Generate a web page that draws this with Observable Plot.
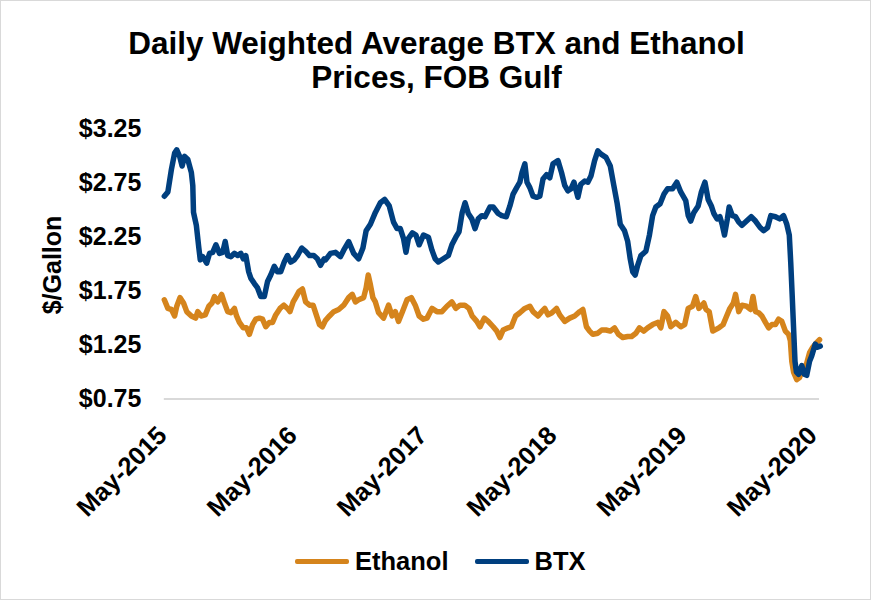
<!DOCTYPE html>
<html>
<head>
<meta charset="utf-8">
<script src="https://cdn.jsdelivr.net/npm/d3@7"></script>
<script src="https://cdn.jsdelivr.net/npm/@observablehq/plot@0.6"></script>
<style>
  html, body { margin: 0; padding: 0; background: #fff; }
  #wrap { position: relative; width: 871px; height: 600px; box-sizing: border-box; border: 1px solid #d9d9d9; overflow: hidden; font-family: "Liberation Sans", Arial, sans-serif; color: #000; }
  #title { position: absolute; left: 0; top: 25px; width: 871px; text-align: center; font-size: 31.5px; font-weight: bold; line-height: 34px; }
  #ylabel { position: absolute; left: 51px; top: 264px; transform: translate(-50%, -50%) rotate(-90deg); font-size: 25px; font-weight: bold; line-height: 25px; white-space: nowrap; }
  #legend { position: absolute; left: 294px; top: 548px; display: flex; align-items: center; font-size: 25.5px; font-weight: bold; line-height: 25px; }
  .sw { width: 54px; height: 5px; border-radius: 2px; margin-right: 6px; }
  .item { display: flex; align-items: center; margin-right: 26px; }
  #chart { position: absolute; left: -1px; top: -1px; }
</style>
</head>
<body>
<div id="wrap">
  <div id="chart"></div>
  <div id="title">Daily Weighted Average BTX and Ethanol<br>Prices, FOB Gulf</div>
  <div id="ylabel">$/Gallon</div>
  <div id="legend"></div>
</div>
<script>
const seriesNames = ["Ethanol", "BTX"];
const seriesColors = ["#d5841c", "#003f7f"];

const yTicks = [0.75, 1.25, 1.75, 2.25, 2.75, 3.25];
const xTickDates = ["2015-05-01", "2016-05-01", "2017-05-01", "2018-05-01", "2019-05-01", "2020-05-01"];
const xTickLabels = ["May-2015", "May-2016", "May-2017", "May-2018", "May-2019", "May-2020"];

const btxDates = [
"2015-05-01","2015-05-11","2015-05-21","2015-05-30","2015-06-05","2015-06-13","2015-06-20","2015-06-27","2015-07-06","2015-07-16","2015-07-20","2015-07-22","2015-07-30","2015-08-06","2015-08-10","2015-08-17","2015-08-28","2015-09-05","2015-09-14","2015-09-23","2015-10-03","2015-10-12","2015-10-19","2015-10-26","2015-11-04","2015-11-14","2015-11-23","2015-12-02","2015-12-09","2015-12-16","2015-12-24","2015-12-30",
"2016-01-09","2016-01-18","2016-01-27","2016-02-06","2016-02-15","2016-02-24","2016-03-05","2016-03-14","2016-03-23","2016-04-02","2016-04-11","2016-04-20","2016-04-30","2016-05-09","2016-05-21","2016-06-01","2016-06-12","2016-06-24","2016-07-04","2016-07-13","2016-07-23","2016-07-27","2016-08-10","2016-08-24","2016-09-07","2016-09-16","2016-09-30","2016-10-14","2016-10-28","2016-11-09","2016-11-18","2016-11-30","2016-12-14","2016-12-28",
"2017-01-09","2017-01-22","2017-02-03","2017-02-13","2017-02-22","2017-03-03","2017-03-10","2017-03-17","2017-03-28","2017-04-07","2017-04-16","2017-04-28","2017-05-12","2017-05-22","2017-05-31","2017-06-09","2017-06-23","2017-07-07","2017-07-17","2017-07-28","2017-08-06","2017-08-15","2017-08-23","2017-09-01","2017-09-11","2017-09-20","2017-09-29","2017-10-09","2017-10-18","2017-11-01","2017-11-10","2017-11-24","2017-12-04","2017-12-17","2017-12-27",
"2018-01-05","2018-01-15","2018-01-24","2018-01-30","2018-02-07","2018-02-13","2018-02-21","2018-03-02","2018-03-12","2018-03-21","2018-03-30","2018-04-09","2018-04-18","2018-04-27","2018-05-11","2018-05-21","2018-05-30","2018-06-08","2018-06-17","2018-06-25","2018-07-02","2018-07-06","2018-07-14","2018-07-25","2018-08-03","2018-08-12","2018-08-22","2018-08-31","2018-09-09","2018-09-23","2018-10-05","2018-10-15","2018-10-24","2018-11-02","2018-11-14","2018-11-23","2018-11-30","2018-12-07","2018-12-14","2018-12-21","2018-12-30",
"2019-01-13","2019-01-23","2019-02-01","2019-02-10","2019-02-22","2019-03-05","2019-03-15","2019-03-29","2019-04-10","2019-04-21","2019-05-05","2019-05-12","2019-05-19","2019-05-28","2019-06-09","2019-06-18","2019-06-28","2019-07-07","2019-07-16","2019-07-23","2019-08-01","2019-08-09","2019-08-16","2019-08-22","2019-08-30","2019-09-04","2019-09-13","2019-09-22","2019-10-01","2019-10-10","2019-10-23","2019-11-05","2019-11-17","2019-11-30","2019-12-10","2019-12-21","2019-12-30",
"2020-01-12","2020-01-24","2020-02-04","2020-02-13","2020-02-20","2020-02-24","2020-02-28","2020-03-03","2020-03-07","2020-03-11","2020-03-17","2020-03-26","2020-04-02","2020-04-09","2020-04-17","2020-04-23","2020-05-03","2020-05-09","2020-05-17"];

const btxValues = [
2.63,2.67,2.88,3.03,3.06,3.00,2.91,3.00,2.97,2.85,2.73,2.48,2.36,2.15,2.04,2.07,2.01,2.10,2.11,2.18,2.10,2.11,2.21,2.08,2.07,2.10,2.08,2.10,2.05,2.08,1.93,1.87,
1.82,1.78,1.70,1.70,1.84,1.90,1.98,1.93,1.93,2.02,2.08,2.02,2.04,2.08,2.15,2.12,2.08,2.08,2.05,1.99,2.05,2.04,2.10,2.11,2.07,2.13,2.21,2.10,2.05,2.15,2.31,2.37,2.48,2.57,
2.60,2.54,2.39,2.33,2.33,2.24,2.11,2.24,2.29,2.27,2.18,2.27,2.25,2.13,2.05,2.02,2.05,2.08,2.18,2.25,2.30,2.48,2.57,2.47,2.42,2.33,2.42,2.45,2.44,2.53,2.53,2.47,2.45,2.44,2.54,
2.65,2.71,2.76,2.85,2.93,2.76,2.71,2.63,2.62,2.63,2.79,2.83,2.80,2.93,2.96,2.85,2.73,2.68,2.70,2.76,2.67,2.62,2.74,2.77,2.76,2.82,2.96,3.05,3.02,2.99,2.91,2.73,2.57,2.37,2.31,2.21,2.05,1.93,1.90,1.99,2.08,
2.12,2.27,2.45,2.53,2.56,2.65,2.70,2.70,2.76,2.67,2.59,2.45,2.40,2.48,2.54,2.67,2.76,2.60,2.54,2.47,2.42,2.44,2.36,2.27,2.42,2.53,2.45,2.44,2.39,2.36,2.40,2.44,2.40,2.34,2.31,2.34,2.45,
2.44,2.42,2.45,2.37,2.27,2.02,1.72,1.41,1.10,1.00,0.98,1.06,0.98,0.97,1.10,1.15,1.26,1.23,1.24];

const ethDates = [
"2015-05-01","2015-05-11","2015-05-21","2015-05-30","2015-06-05","2015-06-14","2015-06-24","2015-07-03","2015-07-16","2015-07-28","2015-08-03","2015-08-12","2015-08-24","2015-09-03","2015-09-12","2015-09-19","2015-09-28","2015-10-09","2015-10-17","2015-10-26","2015-11-04","2015-11-14","2015-11-20","2015-11-28","2015-12-09","2015-12-18","2015-12-26",
"2016-01-04","2016-01-13","2016-01-23","2016-02-01","2016-02-10","2016-02-20","2016-02-29","2016-03-09","2016-03-21","2016-04-01","2016-04-11","2016-04-18","2016-04-27","2016-05-04","2016-05-14","2016-05-23","2016-06-01","2016-06-12","2016-06-22","2016-07-01","2016-07-10","2016-07-18","2016-07-27","2016-08-07","2016-08-19","2016-09-02","2016-09-16","2016-09-30","2016-10-10","2016-10-19","2016-10-28","2016-11-11","2016-11-18","2016-11-24","2016-11-30","2016-12-07","2016-12-14","2016-12-23",
"2017-01-06","2017-01-20","2017-01-30","2017-02-08","2017-02-17","2017-02-28","2017-03-13","2017-03-25","2017-04-05","2017-04-16","2017-04-28","2017-05-08","2017-05-22","2017-06-05","2017-06-19","2017-07-03","2017-07-17","2017-07-28","2017-08-09","2017-08-22","2017-09-03","2017-09-12","2017-09-25","2017-10-04","2017-10-16","2017-10-27","2017-11-10","2017-11-20","2017-11-29","2017-12-08","2017-12-22","2017-12-31",
"2018-01-12","2018-01-24","2018-02-07","2018-02-21","2018-03-02","2018-03-16","2018-03-26","2018-04-04","2018-04-13","2018-04-24","2018-05-07","2018-05-16","2018-05-30","2018-06-13","2018-06-27","2018-07-11","2018-07-20","2018-07-30","2018-08-08","2018-08-17","2018-08-31","2018-09-11","2018-09-23","2018-10-05","2018-10-17","2018-10-28","2018-11-09","2018-11-23","2018-12-04","2018-12-16","2018-12-26",
"2019-01-07","2019-01-18","2019-02-01","2019-02-15","2019-02-24","2019-03-05","2019-03-15","2019-03-24","2019-04-07","2019-04-21","2019-05-02","2019-05-12","2019-05-24","2019-06-02","2019-06-11","2019-06-25","2019-07-01","2019-07-10","2019-07-20","2019-08-06","2019-08-18","2019-08-28","2019-09-06","2019-09-16","2019-09-22","2019-10-01","2019-10-10","2019-10-23","2019-11-03","2019-11-10","2019-11-17","2019-11-26","2019-12-05","2019-12-15","2019-12-24",
"2020-01-02","2020-01-12","2020-01-21","2020-01-30","2020-02-09","2020-02-18","2020-02-23","2020-02-27","2020-03-03","2020-03-12","2020-03-20","2020-03-29","2020-04-08","2020-04-17","2020-04-26","2020-05-06","2020-05-15"];

const ethValues = [
1.67,1.59,1.58,1.52,1.61,1.69,1.64,1.56,1.52,1.50,1.56,1.52,1.53,1.61,1.64,1.70,1.65,1.72,1.64,1.56,1.55,1.59,1.52,1.46,1.41,1.41,1.35,
1.44,1.49,1.50,1.49,1.42,1.46,1.46,1.53,1.59,1.62,1.59,1.56,1.65,1.69,1.75,1.77,1.65,1.62,1.62,1.53,1.44,1.42,1.48,1.52,1.56,1.58,1.62,1.69,1.72,1.65,1.67,1.69,1.78,1.90,1.81,1.69,1.65,1.55,
1.50,1.62,1.52,1.56,1.47,1.56,1.67,1.69,1.62,1.52,1.49,1.50,1.59,1.56,1.56,1.61,1.65,1.59,1.62,1.62,1.59,1.52,1.47,1.42,1.50,1.47,1.42,1.38,1.32,1.39,1.41,1.42,
1.52,1.55,1.59,1.61,1.56,1.52,1.56,1.59,1.53,1.55,1.59,1.53,1.47,1.50,1.52,1.56,1.58,1.42,1.38,1.35,1.36,1.39,1.39,1.38,1.41,1.35,1.32,1.33,1.33,1.36,1.41,
1.38,1.41,1.44,1.46,1.41,1.56,1.52,1.42,1.46,1.42,1.44,1.59,1.61,1.70,1.59,1.64,1.58,1.56,1.38,1.41,1.44,1.52,1.59,1.64,1.72,1.56,1.62,1.61,1.58,1.70,1.56,1.55,1.52,1.46,1.41,
1.44,1.44,1.49,1.47,1.38,1.35,1.29,1.10,1.00,0.93,0.95,1.04,1.07,1.18,1.23,1.27,1.30];

const btx = btxDates.map((d, i) => ({date: new Date(d), value: btxValues[i]}));
const eth = ethDates.map((d, i) => ({date: new Date(d), value: ethValues[i]}));
const ticks = xTickDates.map((d, i) => ({date: new Date(d), label: xTickLabels[i]}));

const font = "'Liberation Sans', Arial, sans-serif";

const chart = Plot.plot({
  width: 871,
  height: 600,
  marginLeft: 164,
  marginRight: 51,
  marginTop: 129,
  marginBottom: 201,
  style: {fontFamily: font, fontSize: "25px", fontWeight: "bold", color: "#000", background: "transparent", overflow: "visible"},
  x: {type: "utc", domain: [new Date("2015-05-01"), new Date("2020-05-15")], axis: null},
  y: {domain: [yTicks[0], yTicks[yTicks.length - 1]], ticks: yTicks, tickFormat: d => "$" + d.toFixed(2), tickSize: 0, tickPadding: 23, label: null},
  marks: [
    Plot.ruleY([yTicks[0]], {stroke: "#d9d9d9", strokeWidth: 2}),
    Plot.line(eth, {x: "date", y: "value", stroke: seriesColors[0], strokeWidth: 5.5, strokeLinejoin: "round", strokeLinecap: "round"}),
    Plot.line(btx, {x: "date", y: "value", stroke: seriesColors[1], strokeWidth: 5.5, strokeLinejoin: "round", strokeLinecap: "round"}),
    Plot.text(ticks, {x: "date", frameAnchor: "bottom", text: "label", rotate: -45, textAnchor: "end", lineAnchor: "bottom", dx: 4, dy: 38, fill: "#000", fontSize: 25.5, fontWeight: "bold"})
  ]
});
document.getElementById("chart").appendChild(chart);

const legend = document.getElementById("legend");
seriesNames.forEach((name, i) => {
  const item = document.createElement("div");
  item.className = "item";
  const sw = document.createElement("div");
  sw.className = "sw";
  sw.style.background = seriesColors[i];
  const label = document.createElement("span");
  label.textContent = name;
  item.appendChild(sw);
  item.appendChild(label);
  legend.appendChild(item);
});
</script>
</body>
</html>
